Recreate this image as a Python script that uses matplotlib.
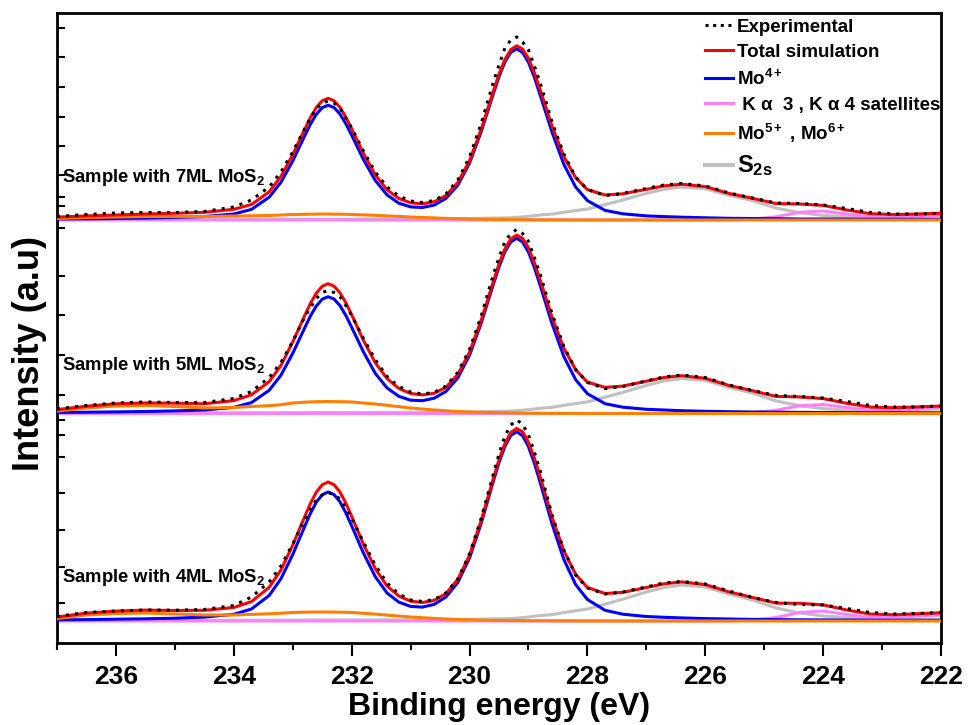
import numpy as np
import matplotlib.pyplot as plt
from matplotlib.lines import Line2D

plt.rcParams['font.family'] = ['Liberation Sans', 'DejaVu Sans']
plt.rcParams['font.weight'] = 'bold'
plt.rcParams['mathtext.fontset'] = 'custom'
plt.rcParams['mathtext.rm'] = 'Liberation Sans:bold'
plt.rcParams['mathtext.it'] = 'Liberation Sans:bold'
plt.rcParams['mathtext.bf'] = 'Liberation Sans:bold'
plt.rcParams['mathtext.default'] = 'rm'

# binding energy grid (eV)
be = [237.0, 236.5, 236.0, 235.5, 235.0, 234.5, 234.0, 233.7, 233.4, 233.2, 233.0,
      232.8, 232.7, 232.6, 232.5, 232.4, 232.3, 232.2, 232.1, 232.0,
      231.8, 231.6, 231.4, 231.2, 231.0, 230.8, 230.6, 230.4, 230.2, 230.0,
      229.8, 229.6, 229.5, 229.4, 229.3, 229.2, 229.1, 229.0, 228.9, 228.8,
      228.6, 228.4, 228.2, 228.0, 227.7, 227.4, 227.0, 226.7, 226.4, 226.0,
      225.6, 225.2, 224.8, 224.4, 224.0, 223.6, 223.2, 222.8, 222.4, 222.0]

# ---- 7ML ----
exp_7 = [3.5, 5.5, 7, 7.5, 7.5, 8.5, 13, 20, 33, 48, 68,
         91, 102, 111, 117, 119, 117, 112, 102, 92,
         69, 48, 33, 24, 19, 17.5, 19.5, 26, 40, 63,
         97, 137, 155, 172, 180, 183, 178, 170, 154, 137,
         98, 66, 43, 30.5, 24.5, 26.5, 31.5, 35, 36.5, 34,
         27, 22, 17, 16.5, 15, 11.5, 7.5, 6, 6, 6.5]
fit_7 = [2.9, 4.1, 5.0, 6.0, 6.7, 7.7, 10.7, 15.5, 28.1, 43.5, 65.3,
         90.4, 102.4, 112.5, 119.2, 121.7, 119.3, 112.8, 103.0, 91.2,
         66.5, 45.3, 30.2, 21.5, 17.2, 16.2, 18.3, 24.5, 37.4, 59.3,
         91.2, 128.0, 145.9, 160.6, 170.4, 174.2, 170.9, 161.6, 147.3, 130.0,
         93.8, 63.4, 42.4, 30.4, 25.0, 26.2, 30.7, 34.1, 35.8, 33.4,
         26.6, 21.7, 16.4, 16.0, 14.6, 10.0, 6.3, 5.4, 6.0, 6.8]
mo4_7 = [1.1, 1.2, 1.5, 1.9, 2.6, 3.5, 6.0, 10.6, 22.8, 37.7, 59.0,
         83.8, 95.7, 105.7, 112.3, 114.8, 112.5, 106.1, 96.4, 84.8,
         60.4, 39.6, 25.1, 16.8, 13.1, 12.5, 14.9, 21.6, 34.7, 56.9,
         88.7, 125.5, 143.3, 158.0, 167.6, 171.2, 167.5, 157.7, 142.8, 124.8,
         87.8, 55.7, 33.0, 19.4, 9.6, 6.2, 4.1, 3.4, 2.8, 2.2,
         1.7, 1.5, 1.3, 1.0, 1.0, 0.9, 0.8, 0.8, 0.7, 0.6]
mo56_7 = [1.5, 2.5, 3.0, 3.5, 3.5, 3.5, 4.0, 4.2, 4.5, 5.0, 5.5,
          5.7, 5.8, 5.9, 6.0, 6.0, 5.9, 5.8, 5.7, 5.5,
          5.1, 4.7, 4.1, 3.6, 3.0, 2.5, 2.1, 1.6, 1.3, 1.0,
          0.8, 0.6, 0.55, 0.5, 0.45, 0.4, 0.3, 0.2, 0.18, 0.15,
          0.1, 0.05] + [0.0] * 18
s2s_7 = [0.3, 0.4, 0.5, 0.6, 0.6, 0.7, 0.7, 0.7, 0.8, 0.8, 0.8,
         0.9, 0.9, 0.9, 0.9, 0.9, 0.9, 0.9, 0.9, 0.9,
         1.0, 1.0, 1.0, 1.1, 1.1, 1.2, 1.3, 1.3, 1.4, 1.4,
         1.7, 1.9, 2.0, 2.1, 2.3, 2.6, 3.1, 3.7, 4.3, 5.0,
         5.9, 7.7, 9.4, 11.0, 15.4, 20.0, 26.6, 30.7, 33.0, 31.2,
         24.8, 19.3, 11.9, 7.3, 4.6, 3.2, 2.3, 1.8, 1.5, 1.4]
sat_7 = [0.0] * 50 + [0.1, 0.9, 3.2, 7.7, 9.0, 5.9, 3.2, 2.8, 3.8, 4.8]

# ---- 5ML ----
exp_5 = [4.5, 8, 10.5, 11.5, 11, 11, 15, 22, 36, 51, 72,
         96, 106, 115, 121, 123, 121, 117, 108, 98,
         75, 54, 37, 27, 21.5, 19.5, 21, 27.5, 41, 64,
         98, 138, 156, 172, 180, 184, 180, 172, 156, 139,
         100, 67, 44, 31, 25, 27, 32.5, 36.5, 38.5, 36,
         28.5, 23, 18, 17, 15.5, 12, 8, 6.5, 6.5, 7.5]
fit_5 = [3.9, 7.3, 9.7, 10.6, 10.3, 9.7, 12.9, 18.7, 31.8, 48.0, 71.6,
         97.5, 110.1, 120.3, 127.2, 129.8, 127.4, 120.8, 110.9, 98.7,
         73.1, 50.8, 34.9, 25.1, 20.0, 18.6, 20.2, 26.2, 39.0, 61.3,
         93.7, 131.3, 149.5, 164.6, 174.6, 178.4, 175.2, 165.6, 150.9, 133.3,
         96.2, 65.3, 43.9, 31.4, 26.1, 27.4, 32.3, 36.0, 37.8, 35.2,
         28.1, 22.8, 17.1, 16.6, 14.9, 10.2, 6.4, 5.8, 6.6, 7.5]
mo4_5 = [1.1, 1.3, 1.6, 2.0, 2.6, 3.5, 6.1, 10.9, 23.2, 38.3, 60.2,
         85.3, 97.5, 107.5, 114.3, 116.8, 114.5, 108.0, 98.2, 86.2,
         61.6, 40.2, 25.6, 17.2, 13.3, 12.8, 15.3, 22.1, 35.5, 58.3,
         90.7, 128.4, 146.6, 161.7, 171.6, 175.2, 171.5, 161.4, 146.1, 127.8,
         89.8, 57.0, 33.9, 19.8, 9.8, 6.3, 4.2, 3.5, 2.8, 2.2,
         1.8, 1.5, 1.3, 1.1, 1.0, 0.9, 0.8, 0.8, 0.7, 0.6]
mo56_5 = [2.5, 5.5, 7.5, 8.0, 7.0, 5.5, 6.0, 7.0, 7.8, 8.8, 10.5,
          11.3, 11.6, 11.8, 11.9, 12.0, 11.9, 11.8, 11.7, 11.5,
          10.5, 9.5, 8.2, 6.8, 5.5, 4.5, 3.5, 2.7, 2.0, 1.5,
          1.2, 0.9, 0.8, 0.7, 0.6, 0.5, 0.4, 0.3, 0.28, 0.25,
          0.2, 0.15, 0.1] + [0.0] * 17
s2s_5 = [0.3, 0.5, 0.6, 0.6, 0.7, 0.7, 0.8, 0.8, 0.8, 0.9, 0.9,
         0.9, 1.0, 1.0, 1.0, 1.0, 1.0, 1.0, 1.0, 1.0,
         1.0, 1.1, 1.1, 1.1, 1.2, 1.3, 1.4, 1.4, 1.5, 1.5,
         1.8, 2.0, 2.1, 2.2, 2.4, 2.7, 3.3, 3.9, 4.5, 5.2,
         6.2, 8.1, 9.9, 11.6, 16.3, 21.1, 28.1, 32.5, 35.0, 33.0,
         26.2, 20.4, 12.6, 7.8, 4.9, 3.4, 2.4, 1.9, 1.6, 1.5]
sat_5 = [0.0] * 50 + [0.1, 0.9, 3.2, 7.7, 9.0, 5.9, 3.2, 3.1, 4.3, 5.4]

# ---- 4ML ----
exp_4 = [4.5, 8.5, 10, 11, 10.8, 11.5, 15.5, 24, 39, 55, 77,
         101, 112, 121, 126, 128, 127, 122, 113, 103,
         79, 56, 38, 27, 21, 19.5, 21.5, 28, 42, 67,
         103, 146, 167, 185, 196, 201, 197, 186, 169, 150,
         106, 71, 46, 33, 27, 29, 34, 38, 39.5, 37,
         30, 23.5, 18.5, 16.5, 16, 12.5, 8.5, 7, 7.5, 8.5]
fit_4 = [4.0, 7.9, 9.9, 10.9, 10.5, 10.7, 13.5, 19.4, 33.6, 51.0, 75.8,
         104.0, 117.5, 128.8, 136.2, 139.0, 136.3, 129.1, 118.0, 104.7,
         76.7, 52.4, 35.0, 25.0, 19.8, 18.5, 20.6, 27.4, 41.5, 65.7,
         100.9, 141.7, 161.3, 177.4, 188.5, 192.5, 189.2, 178.6, 162.9, 143.9,
         103.7, 70.2, 46.8, 33.5, 27.5, 28.6, 33.5, 37.2, 39.1, 36.4,
         29.1, 23.6, 17.9, 17.7, 16.1, 11.0, 7.0, 6.2, 7.3, 8.2]
mo4_4 = [1.2, 1.4, 1.8, 2.2, 2.8, 3.9, 6.7, 12.0, 25.5, 42.3, 66.4,
         94.2, 107.6, 118.8, 126.2, 129.0, 126.4, 119.3, 108.3, 95.2,
         67.9, 44.4, 28.0, 18.9, 14.6, 13.9, 16.6, 24.0, 38.4, 63.0,
         98.1, 138.9, 158.5, 174.6, 185.5, 189.3, 185.4, 174.3, 157.9, 138.2,
         97.1, 61.6, 36.5, 21.5, 10.7, 6.8, 4.5, 3.7, 3.1, 2.4,
         2.0, 1.6, 1.4, 1.2, 1.1, 1.0, 0.9, 0.8, 0.8, 0.7]
mo56_4 = [2.5, 6.0, 7.5, 8.0, 7.0, 6.0, 6.0, 6.6, 7.2, 7.8, 8.5,
          8.8, 8.9, 9.0, 9.0, 9.0, 8.9, 8.8, 8.7, 8.5,
          7.7, 6.9, 5.9, 4.9, 4.0, 3.3, 2.6, 2.0, 1.6, 1.2,
          0.9, 0.7, 0.6, 0.5, 0.45, 0.4, 0.35, 0.3, 0.28, 0.25,
          0.2, 0.15, 0.1] + [0.0] * 17
s2s_4 = [0.3, 0.5, 0.6, 0.65, 0.7, 0.75, 0.8, 0.8, 0.85, 0.9, 0.9,
         0.95, 1.0, 1.0, 1.0, 1.0, 1.0, 1.0, 1.0, 1.0,
         1.05, 1.1, 1.1, 1.15, 1.2, 1.3, 1.4, 1.4, 1.5, 1.5,
         1.9, 2.1, 2.2, 2.3, 2.5, 2.8, 3.4, 4.0, 4.7, 5.4,
         6.4, 8.4, 10.2, 12.0, 16.8, 21.8, 29.0, 33.5, 36.0, 34.0,
         27.0, 21.0, 13.0, 8.0, 5.0, 3.5, 2.5, 2.0, 1.7, 1.5]
sat_4 = [0.0] * 50 + [0.1, 1.0, 3.5, 8.5, 10.0, 6.5, 3.6, 3.4, 4.8, 6.0]

samples = ['Sample with 7ML MoS$_2$', 'Sample with 5ML MoS$_2$', 'Sample with 4ML MoS$_2$']
offsets = [423, 229.5, 22]
label_y = [461, 273, 61]

spectra = [
    (exp_7, fit_7, mo4_7, sat_7, mo56_7, s2s_7),
    (exp_5, fit_5, mo4_5, sat_5, mo56_5, s2s_5),
    (exp_4, fit_4, mo4_4, sat_4, mo56_4, s2s_4),
]

fig = plt.figure(figsize=(9.71, 7.25), dpi=100)
ax = fig.add_axes([57/971, 1 - 643/725, 884/971, 630/725])

x = np.array(be)
kw = dict(lw=2.2, solid_joinstyle='round', solid_capstyle='round')
for i, (ex, fit, mo4, sat, mo56, s2s) in enumerate(spectra):
    off = offsets[i]
    ax.plot(x, np.array(s2s) + off, color='#c0c0c0', zorder=2, **kw)
    ax.plot(x, np.array(sat) + off, color='#ff80ff', zorder=2, **kw)
    ax.plot(x, np.array(mo4) + off, color='#0000ff', zorder=3, **kw)
    ax.plot(x, np.array(mo56) + off, color='#ff8000', zorder=3, **kw)
    ax.plot(x, np.array(fit) + off, color='#ff0000', zorder=4, **kw)
    ax.plot(x, np.array(ex) + off, color='black', lw=2.2, ls=(0, (1, 2)), zorder=5)
    ax.text(236.92, label_y[i], samples[i], fontsize=13.3, fontweight='bold', va='baseline', ha='left')

handles = [
    Line2D([], [], color='black', lw=2.2, ls=(0, (1, 1.5))),
    Line2D([], [], color='#ff0000', lw=2.2),
    Line2D([], [], color='#0000ff', lw=2.2),
    Line2D([], [], color='#ff80ff', lw=2.2),
    Line2D([], [], color='#ff8000', lw=2.2),
    Line2D([], [], color='#c0c0c0', lw=3),
]
labels = ['Experimental', 'Total simulation', 'Mo$^{4+}$', ' K α  3 , K α 4 satellites',
          'Mo$^{5+}$ , Mo$^{6+}$', 'S$_{2s}$']
leg = ax.legend(handles, labels, loc='upper left', bbox_to_anchor=(0.733, 0.991), frameon=False,
                prop={'size': 13.5, 'weight': 'bold'}, handlelength=1.5, handletextpad=0.2,
                labelspacing=0.42, borderpad=0, borderaxespad=0)
leg.get_texts()[5].set_fontsize(17)

ax.set_xlim(237, 222)
ax.set_ylim(0, 630)
ax.set_xticks([236, 234, 232, 230, 228, 226, 224, 222])
ax.set_xticks([237, 235, 233, 231, 229, 227, 225, 223], minor=True)
ax.set_yticks([615, 586, 556, 526, 497, 468, 446, 437, 415, 367, 328, 288, 248, 231, 223,
               208, 186, 150, 113, 76, 40])
ax.tick_params(axis='y', direction='in', length=6, width=1.5, labelleft=False)
ax.tick_params(axis='x', which='major', direction='out', length=9, width=1.5, labelsize=19, pad=7)
ax.tick_params(axis='x', which='minor', direction='out', length=5, width=1.5)
for t in ax.get_xticklabels():
    t.set_fontweight('bold')
for s in ax.spines.values():
    s.set_linewidth(2)

ax.set_xlabel('Binding energy (eV)', fontsize=23, fontweight='bold', labelpad=2)
ax.set_ylabel('Intensity (a.u)', fontsize=26, fontweight='bold')
ax.yaxis.set_label_coords(-0.011, 0.46)

plt.savefig('out.png', dpi=100)
plt.close()
